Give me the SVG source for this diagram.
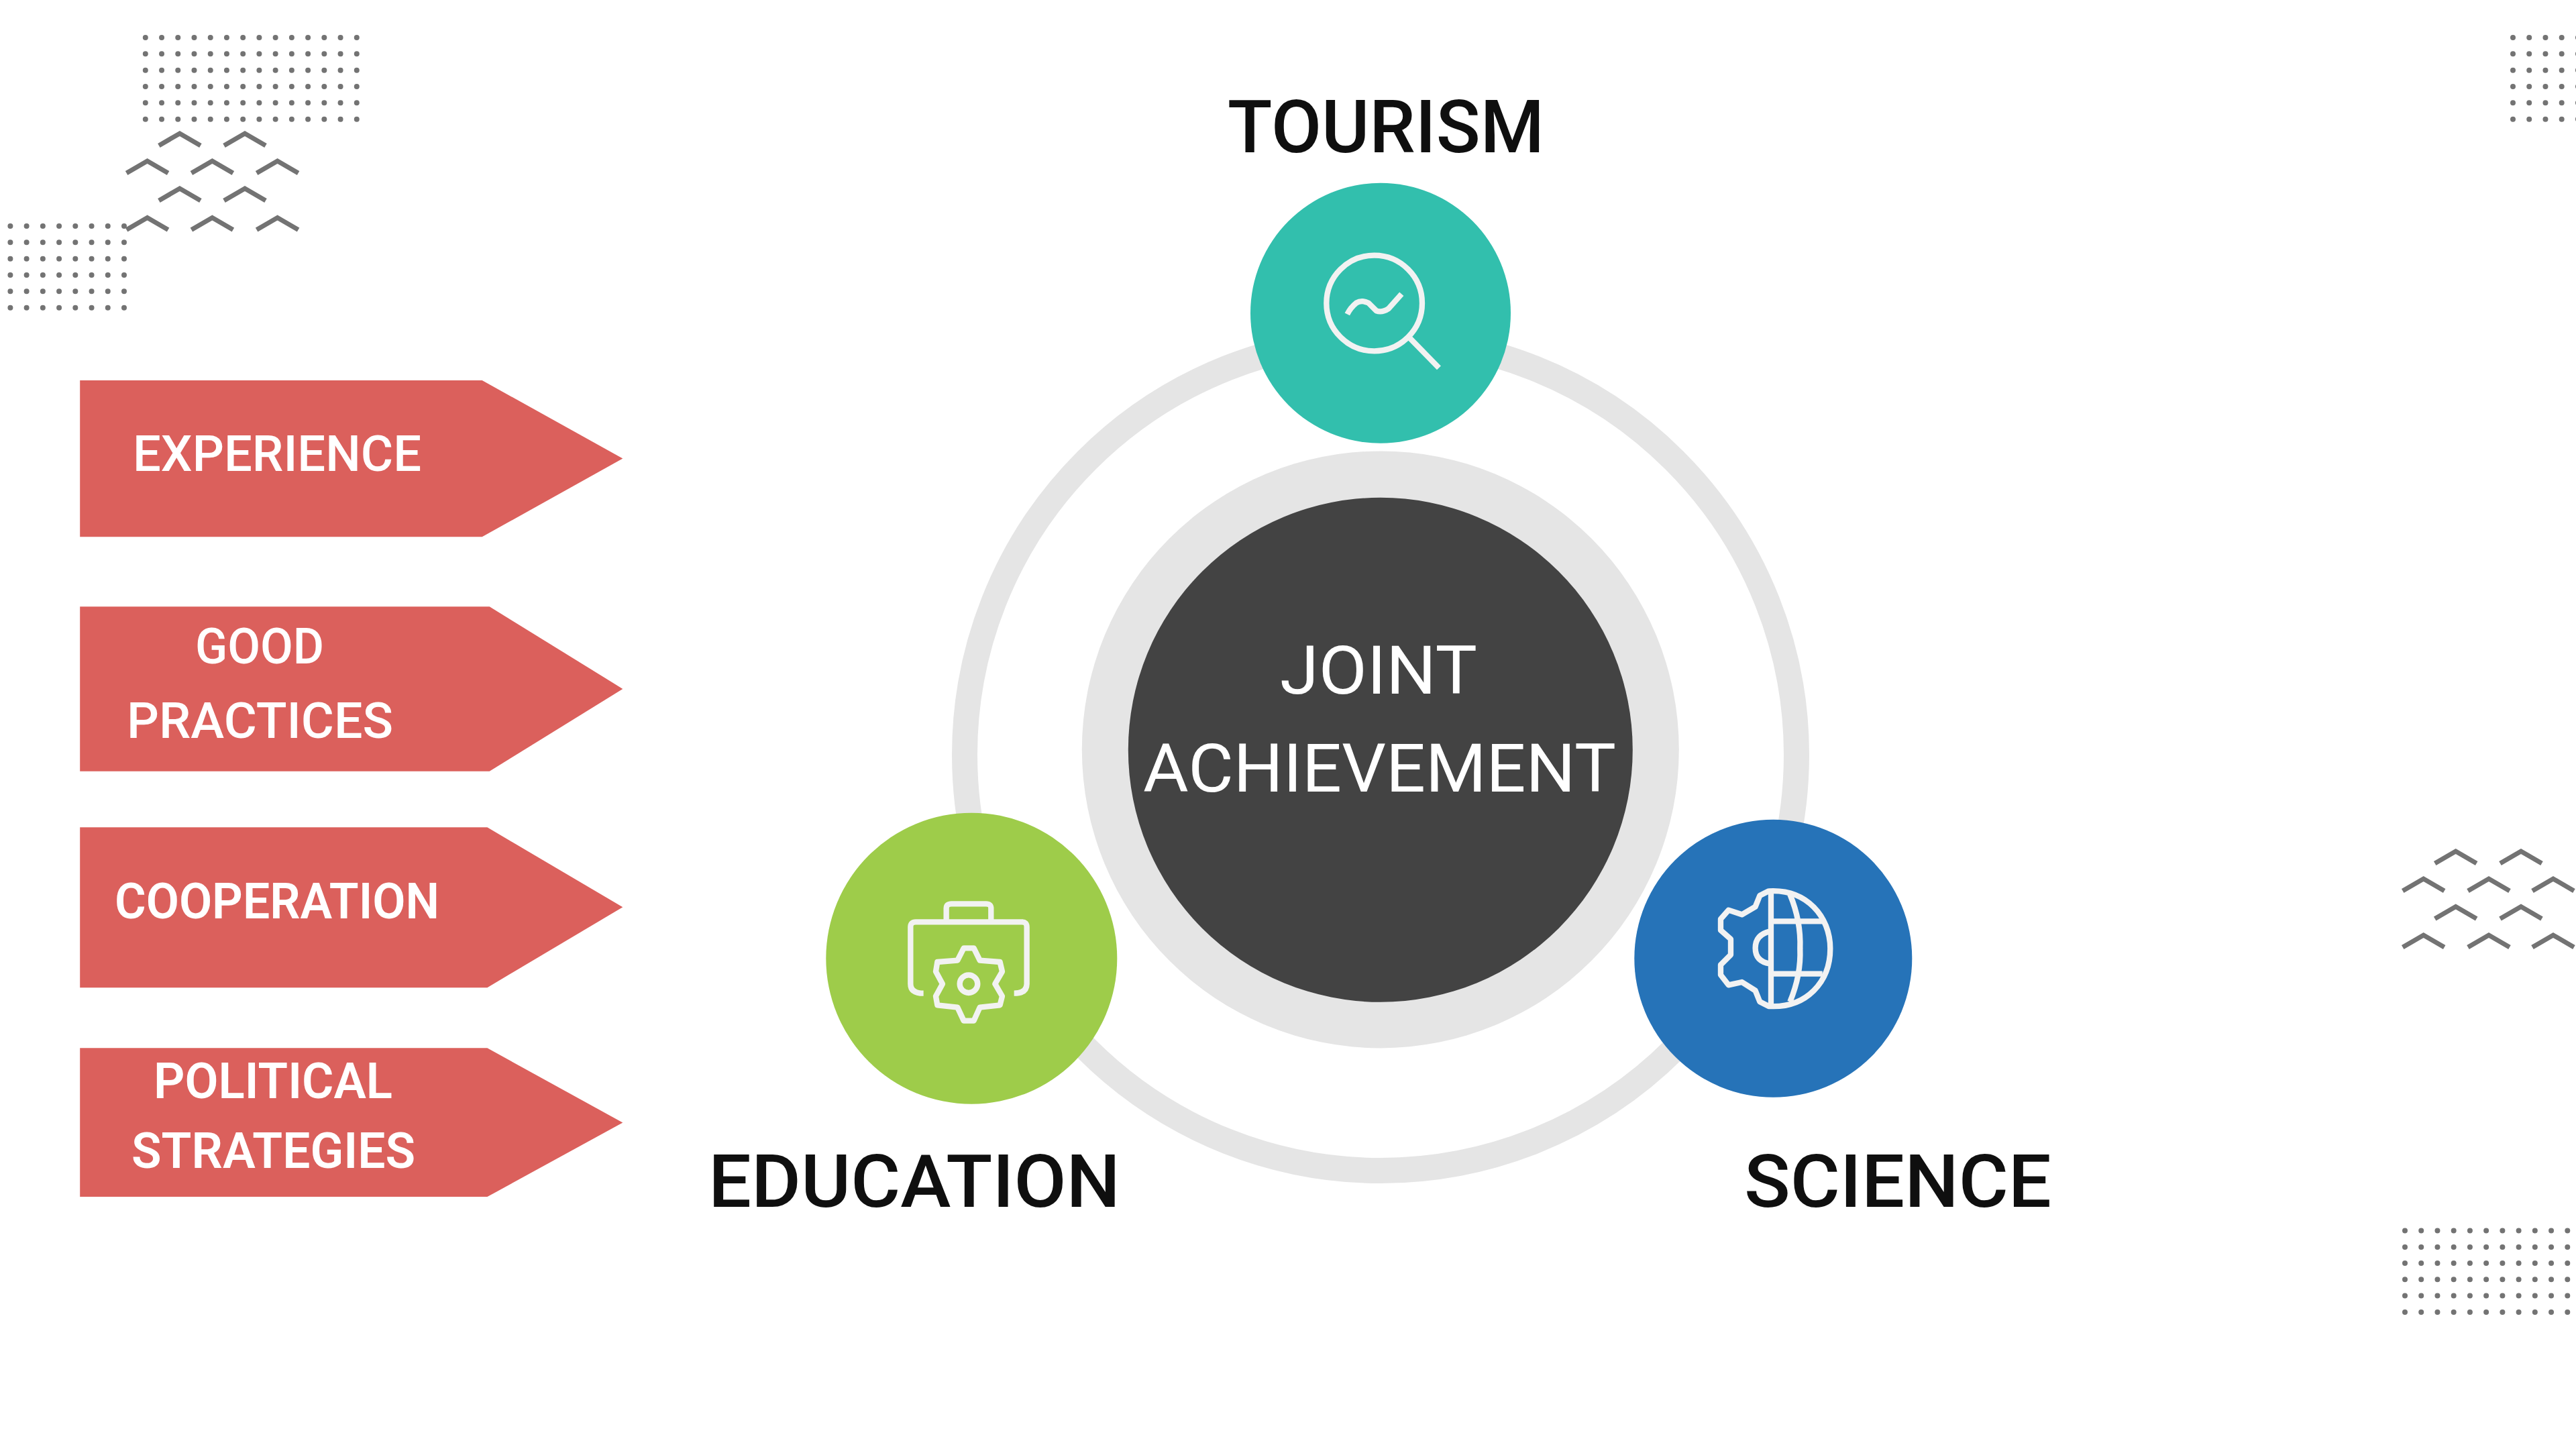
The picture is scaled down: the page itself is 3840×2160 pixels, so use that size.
<svg xmlns="http://www.w3.org/2000/svg" xmlns:xlink="http://www.w3.org/1999/xlink" width="3840" height="2160" viewBox="0 0 3840 2160">
<style>
text{font-family:Roboto,"Liberation Sans",sans-serif}
.lab{fill:#fff;font-size:74px;font-weight:500}
.labb{fill:#fff;font-size:74px;font-weight:600}
.hub{fill:#fff;font-size:100px;font-weight:400}
.cap{fill:#0f0f0f;font-size:110px;font-weight:500}
.arrow{fill:#db605c}
.dots{stroke:#737373;stroke-width:8;stroke-linecap:round;stroke-dasharray:0 24.23;fill:none}
.chev{stroke:#737373;stroke-width:7;fill:none}
.ico{stroke:#f2f2f2;fill:none;stroke-width:25;stroke-linejoin:round}
</style>
<defs>
<path id="c" d="M-31 21L0 3L31 21"/>
</defs>
<rect width="3840" height="2160" fill="#fff"/>
<g id="decor">
<path class="dots" d="M216.8 56H540M216.8 80.3H540M216.8 104.7H540M216.8 129H540M216.8 153.3H540M216.8 177.7H540"/>
<path class="dots" d="M15.4 337H190M15.4 361.3H190M15.4 385.7H190M15.4 410H190M15.4 434.3H190M15.4 458.7H190"/>
<path class="dots" d="M3746 56H3860M3746 80.3H3860M3746 104.7H3860M3746 129H3860M3746 153.3H3860M3746 177.7H3860"/>
<path class="dots" d="M3585 1834.6H3835M3585 1858.9H3835M3585 1883.1H3835M3585 1907.3H3835M3585 1931.6H3835M3585 1955.9H3835"/>
<g class="chev">
<use xlink:href="#c" href="#c" x="267.9" y="196"/><use xlink:href="#c" href="#c" x="365" y="196"/>
<use xlink:href="#c" href="#c" x="219.6" y="237"/><use xlink:href="#c" href="#c" x="316.4" y="237"/><use xlink:href="#c" href="#c" x="413.6" y="237"/>
<use xlink:href="#c" href="#c" x="267.9" y="278"/><use xlink:href="#c" href="#c" x="365" y="278"/>
<use xlink:href="#c" href="#c" x="219.6" y="321.5"/><use xlink:href="#c" href="#c" x="316.4" y="321.5"/><use xlink:href="#c" href="#c" x="413.6" y="321.5"/>
<use xlink:href="#c" href="#c" x="3660.7" y="1266"/><use xlink:href="#c" href="#c" x="3758" y="1266"/>
<use xlink:href="#c" href="#c" x="3612.7" y="1307"/><use xlink:href="#c" href="#c" x="3710" y="1307"/><use xlink:href="#c" href="#c" x="3806" y="1307"/>
<use xlink:href="#c" href="#c" x="3660.7" y="1348.5"/><use xlink:href="#c" href="#c" x="3758" y="1348.5"/>
<use xlink:href="#c" href="#c" x="3612.7" y="1391"/><use xlink:href="#c" href="#c" x="3710" y="1391"/><use xlink:href="#c" href="#c" x="3806" y="1391"/>
</g>
</g>
<g id="connectors">
<circle cx="2058" cy="1125" r="620" fill="none" stroke="#e5e5e5" stroke-width="38"/>
</g>
<g id="hub">
<circle cx="2057.8" cy="1117.4" r="445" fill="#e5e5e5"/>
<circle cx="2057.8" cy="1117.8" r="376" fill="#434343"/>
<text class="hub" x="1908" y="1033.5" textLength="294" lengthAdjust="spacingAndGlyphs">JOINT</text>
<text class="hub" x="1704" y="1180.4" textLength="705" lengthAdjust="spacingAndGlyphs">ACHIEVEMENT</text>
</g>
<g id="tourism">
<circle cx="2058" cy="466.7" r="194" fill="#32bfad"/>
<g class="ico" transform="translate(1840 250) scale(.3333)">
<circle cx="626" cy="606" r="214"/>
<path d="M775 752L915 895M505 655Q520 625 545 605Q570 590 600 605L635 640Q660 650 690 630L748 565"/>
</g>
<text class="cap" x="1830" y="227.3" textLength="472" lengthAdjust="spacingAndGlyphs">TOURISM</text>
</g>
<g id="education">
<circle cx="1448.3" cy="1428.7" r="217" fill="#9ecc4a"/>
<g class="ico" transform="translate(1220 1200) scale(.3333)">
<path d="M470 842Q412 842 412 800V545Q412 523 435 523H910Q932 523 932 545V800Q932 842 875 842M572 515V462Q572 442 595 442H750Q772 442 772 462V515"/>
<path d="M650 640H695L722 695L812 702L822 745L790 800L822 855L812 895L722 905L695 965H650L622 905L532 895L525 855L555 800L525 745L532 702L622 695Z"/>
<circle cx="672" cy="800" r="40"/>
</g>
<text class="cap" x="1056" y="1799.3" textLength="614" lengthAdjust="spacingAndGlyphs">EDUCATION</text>
</g>
<g id="science">
<circle cx="2643.3" cy="1428.7" r="207" fill="#2673b8"/>
<g class="ico" transform="translate(2420 1210) scale(.3333)">
<path d="M650 355C820 345 925 470 925 612C925 760 820 880 650 870L610 850L590 800L530 762L470 775L435 730V685L480 640V570L435 530V480L470 440L530 460L590 425L610 375Z"/>
<path d="M660 355V870M745 370Q795 490 790 612Q795 730 745 850M670 490H890M670 725H890M655 535Q590 550 590 610Q590 670 655 680"/>
</g>
<text class="cap" x="2600" y="1799.3" textLength="458" lengthAdjust="spacingAndGlyphs">SCIENCE</text>
</g>
<g id="experience">
<path class="arrow" d="M119.2 567H718.7L928.3 683.6L718.7 800.3H119.2Z"/>
<text class="lab" x="198" y="702.2" textLength="430" lengthAdjust="spacingAndGlyphs">EXPERIENCE</text>
</g>
<g id="good-practices">
<path class="arrow" d="M119.2 904.3H729.7L928.3 1026.9L729.7 1149.8H119.2Z"/>
<text class="lab" x="291" y="989" textLength="192" lengthAdjust="spacingAndGlyphs">GOOD</text>
<text class="lab" x="189" y="1099.6" textLength="397" lengthAdjust="spacingAndGlyphs">PRACTICES</text>
</g>
<g id="cooperation">
<path class="arrow" d="M119.2 1233.3H726.4L928.3 1352.3L726.4 1472.2H119.2Z"/>
<text class="labb" x="171" y="1369.4" textLength="484" lengthAdjust="spacingAndGlyphs">COOPERATION</text>
</g>
<g id="political-strategies">
<path class="arrow" d="M119.2 1562.3H726.4L928.3 1673.4L726.4 1784.1H119.2Z"/>
<text class="labb" x="229" y="1637.4" textLength="356" lengthAdjust="spacingAndGlyphs">POLITICAL</text>
<text class="labb" x="196" y="1741.4" textLength="423" lengthAdjust="spacingAndGlyphs">STRATEGIES</text>
</g>
</svg>
